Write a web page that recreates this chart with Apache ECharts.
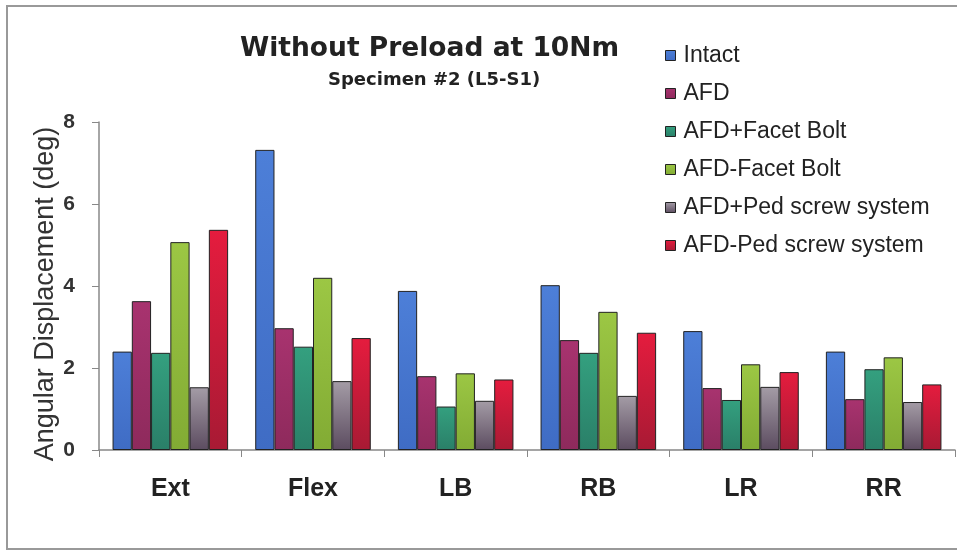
<!DOCTYPE html>
<html>
	<head>
		<meta charset="utf-8" />
		<title>Without Preload at 10Nm</title>
		<style>
			html, body { margin: 0; padding: 0; background: #fff; }
			#chart { width: 957px; height: 551px; }
		</style>
	</head>
	<body>
		<div id="chart"></div>
		<script src="https://cdn.jsdelivr.net/npm/echarts@6/dist/echarts.min.js"></script>
		<script type="text/javascript">
			const categories = ['Ext', 'Flex', 'LB', 'RB', 'LR', 'RR'];
			const intact = [2.4, 7.32, 3.88, 4.02, 2.9, 2.4];
			const afd = [3.63, 2.97, 1.8, 2.68, 1.51, 1.24];
			const afdPlusFacetBolt = [2.37, 2.52, 1.06, 2.37, 1.22, 1.97];
			const afdMinusFacetBolt = [5.07, 4.2, 1.87, 3.37, 2.09, 2.26];
			const afdPlusPedScrew = [1.53, 1.68, 1.2, 1.32, 1.54, 1.17];
			const afdMinusPedScrew = [5.37, 2.73, 1.72, 2.86, 1.9, 1.6];
			const yTicks = [0, 2, 4, 6, 8];

			const grad = (top, bottom) => new echarts.graphic.LinearGradient(0, 0, 0, 1, [
				{ offset: 0, color: top },
				{ offset: 1, color: bottom },
			]);

			const seriesDefs = [
				{ name: 'Intact', data: intact, color: grad('#4d7fd8', '#3f6cc4') },
				{ name: 'AFD', data: afd, color: grad('#a8336f', '#8e2a5c') },
				{ name: 'AFD+Facet Bolt', data: afdPlusFacetBolt, color: grad('#34a07f', '#2a7f68') },
				{ name: 'AFD-Facet Bolt', data: afdMinusFacetBolt, color: grad('#9cc744', '#82ab34') },
				{ name: 'AFD+Ped screw system', data: afdPlusPedScrew, color: grad('#a49ca6', '#5c4c60') },
				{ name: 'AFD-Ped screw system', data: afdMinusPedScrew, color: grad('#e51c3e', '#a81a34') },
			];

			const chart = echarts.init(document.getElementById('chart'));
			chart.setOption({
				animation: false,
				backgroundColor: '#fff',
				textStyle: { fontFamily: 'Liberation Sans, Arial, sans-serif' },
				graphic: [
					{
						type: 'rect',
						shape: { x: 7, y: 6, width: 990, height: 543 },
						style: { fill: 'none', stroke: '#999', lineWidth: 2 },
						silent: true,
						z: -1,
					},
					{
						type: 'text',
						left: 240,
						top: 36,
						style: { text: 'Without Preload at 10Nm', fontSize: 26.5, fontWeight: 'bold', fill: '#222', fontFamily: 'DejaVu Sans' },
					},
					{
						type: 'text',
						left: 328,
						top: 71,
						style: { text: 'Specimen #2 (L5-S1)', fontSize: 18, fontWeight: 'bold', fill: '#222', fontFamily: 'DejaVu Sans' },
					},
					{
						type: 'text',
						x: 46,
						y: 294,
						rotation: Math.PI / 2,
						style: {
							text: 'Angular Displacement (deg)',
							fontSize: 27,
							fill: '#333',
							align: 'center',
							verticalAlign: 'middle',
							fontFamily: 'Liberation Sans',
						},
					},
				],
				legend: {
					orient: 'vertical',
					left: 660,
					top: 39,
					itemWidth: 10,
					itemHeight: 10,
					itemGap: 15,
					icon: 'rect',
					textStyle: { fontSize: 23, color: '#222', padding: [0, 0, 0, 3] },
					itemStyle: { borderColor: '#222', borderWidth: 1 },
					data: seriesDefs.map(s => s.name),
				},
				grid: { left: 99, right: 2, top: 122, bottom: 101 },
				xAxis: {
					type: 'category',
					data: categories,
					axisLine: { lineStyle: { color: '#888', width: 1.5 } },
					axisTick: { show: true, length: 7, lineStyle: { color: '#888' } },
					axisLabel: { fontSize: 25, fontWeight: 'bold', color: '#222', margin: 27 },
				},
				yAxis: {
					type: 'value',
					min: yTicks[0],
					max: yTicks[yTicks.length - 1],
					interval: 2,
					splitLine: { show: false },
					axisLine: { show: true, lineStyle: { color: '#888', width: 1.5 } },
					axisTick: { show: true, length: 7, lineStyle: { color: '#888' } },
					axisLabel: { fontSize: 21, fontWeight: 'bold', color: '#333', margin: 24 },
				},
				series: seriesDefs.map(s => ({
					name: s.name,
					type: 'bar',
					data: s.data,
					barGap: '0%',
					barCategoryGap: '19%',
					itemStyle: { color: s.color, borderColor: '#222', borderWidth: 1 },
				})),
			});
		</script>
	</body>
</html>
